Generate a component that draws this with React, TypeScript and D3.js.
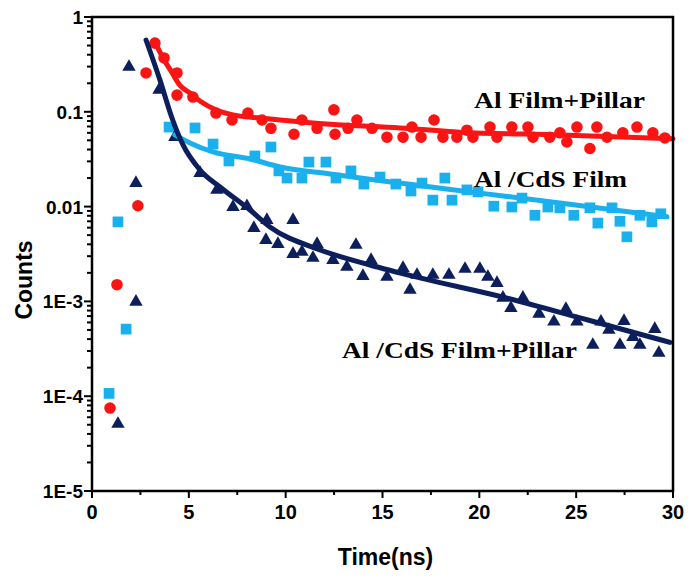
import React from "react";
import * as d3 from "d3";

// ---- data ----
const xTicks = [0, 5, 10, 15, 20, 25, 30];
const yTicks = [1, 0.1, 0.01, 1e-3, 1e-4, 1e-5];
const yTickLabels = ["1", "0.1", "0.01", "1E-3", "1E-4", "1E-5"];

const redPoints: [number, number][] = [
  [0.93, 7.5e-5], [1.29, 1.5e-3], [2.37, 0.0102], [2.79, 0.257], [3.25, 0.53], [3.72, 0.37],
  [4.39, 0.257], [4.39, 0.15], [5.21, 0.143], [6.4, 0.097], [7.23, 0.082], [8.05, 0.097],
  [8.78, 0.082], [9.24, 0.067], [10.43, 0.058], [10.84, 0.082], [11.62, 0.067], [12.49, 0.105],
  [12.55, 0.058], [13.22, 0.067], [13.68, 0.082], [14.46, 0.067], [15.23, 0.054], [16.06, 0.054],
  [16.52, 0.069], [16.99, 0.054], [17.66, 0.082], [18.12, 0.054], [18.84, 0.054], [19.36, 0.064],
  [19.67, 0.054], [20.55, 0.069], [20.91, 0.054], [21.68, 0.069], [22.51, 0.069], [22.77, 0.054],
  [23.64, 0.054], [24.16, 0.06], [24.52, 0.048], [25.04, 0.069], [25.71, 0.041], [26.07, 0.069],
  [26.59, 0.054], [27.41, 0.06], [28.14, 0.069], [28.96, 0.06], [29.58, 0.053],
];
const redFit: [number, number][] = [
  [3.2, 0.57], [3.77, 0.34], [4.03, 0.28], [4.54, 0.19], [5.06, 0.158], [5.57, 0.13],
  [6.45, 0.104], [7.64, 0.09], [8.67, 0.086], [9.71, 0.082], [12.3, 0.074], [15.9, 0.0675],
  [19, 0.061], [24.2, 0.057], [30, 0.052],
];

const cyanPoints: [number, number][] = [
  [0.88, 1.07e-4], [1.34, 0.0069], [1.76, 5.1e-4], [3.98, 0.069], [5.32, 0.0675], [6.25, 0.0457],
  [7.07, 0.0303], [8.41, 0.0342], [9.24, 0.0425], [9.65, 0.0238], [10.07, 0.02], [10.84, 0.02],
  [11.2, 0.0295], [12.08, 0.0295], [12.6, 0.02], [13.37, 0.0238], [14.04, 0.0173], [14.87, 0.0205],
  [15.69, 0.0173], [16.47, 0.0146], [17.04, 0.0177], [17.6, 0.0117], [18.22, 0.02], [18.59, 0.0117],
  [19.36, 0.015], [19.93, 0.0143], [20.75, 0.0101], [21.68, 0.0099], [22.2, 0.0123], [22.87, 0.0081],
  [23.54, 0.0099], [24.16, 0.0097], [24.88, 0.0081], [25.71, 0.0097], [26.12, 0.0067], [26.85, 0.0097],
  [27.26, 0.007], [27.62, 0.0048], [28.29, 0.0081], [28.91, 0.0069], [29.37, 0.0084],
];
const cyanFit: [number, number][] = [
  [4.28, 0.057], [5.06, 0.0469], [6.25, 0.0377], [8.16, 0.0318], [9.71, 0.0262], [12.29, 0.0221],
  [15.9, 0.0177], [19.51, 0.0143], [24.16, 0.0109], [29.69, 0.0078],
];

const navyPoints: [number, number][] = [
  [1.34, 5.1e-5], [1.91, 0.297], [2.27, 0.0177], [2.27, 9.9e-4], [3.46, 0.17], [4.28, 0.0542],
  [5.58, 0.0226], [6.45, 0.015], [7.28, 0.0099], [8.0, 0.0101], [8.36, 0.00594], [9.03, 0.00722],
  [8.98, 0.00444], [9.6, 0.00403], [10.38, 0.00722], [10.38, 0.00316], [10.84, 0.00332], [11.41, 0.00287],
  [11.62, 0.00403], [12.44, 0.00273], [13.16, 0.00231], [13.63, 0.00394], [13.99, 0.00185], [14.41, 0.00273],
  [15.23, 0.00181], [16.06, 0.00225], [16.42, 0.00132], [16.78, 0.0019], [17.6, 0.0019], [18.43, 0.0019],
  [19.26, 0.0022], [20.03, 0.0022], [20.44, 0.00181], [20.91, 0.00156], [21.22, 0.00109], [21.63, 0.00085],
  [22.25, 0.00109], [23.08, 0.00074], [23.85, 0.00061], [24.47, 0.00083], [25.04, 0.00061], [25.86, 0.000347],
  [26.28, 0.00061], [26.69, 0.0005], [27.26, 0.000347], [27.47, 0.00062], [27.93, 0.00042], [28.29, 0.000347],
  [29.06, 0.00051], [29.27, 0.000286],
];
const navyFit: [number, number][] = [
  [2.79, 0.572], [3.51, 0.216], [4.13, 0.086], [4.7, 0.0447], [5.58, 0.0243], [6.61, 0.0161],
  [8.16, 0.0092], [9.19, 0.0061], [11.77, 0.0035], [14.35, 0.00242], [16.93, 0.00177], [21.22, 0.00111],
  [25.56, 0.00064], [29.84, 0.00037],
];

const seriesLabels = ["Al Film+Pillar", "Al /CdS Film", "Al /CdS Film+Pillar"];

// ---- layout ----
const W = 700;
const H = 579;
const M = { left: 92, right: 673, top: 17, bottom: 491 };

const RED = "#fb1414";
const CYAN = "#1ab0ee";
const NAVY = "#0c1f5c";

const narrow = "'Liberation Sans Narrow', 'Arial Narrow', 'Liberation Sans', Arial, sans-serif";
const sans = "'Liberation Sans', Arial, sans-serif";
const serif = "'Liberation Serif', 'Times New Roman', serif";

export default function App() {
  const x = d3.scaleLinear().domain([0, 30]).range([M.left, M.right]);
  const y = d3.scaleLog().domain([1e-5, 1]).range([M.bottom, M.top]);

  const line = d3
    .line<[number, number]>()
    .x((d) => x(d[0]))
    .y((d) => y(d[1]))
    .curve(d3.curveMonotoneX);

  const circle = d3.symbol().type(d3.symbolCircle).size(105)()!;
  const square = d3.symbol().type(d3.symbolSquare).size(115)()!;
  const tri = d3.symbol().type(d3.symbolTriangle).size(78)()!;

  const xMinor = d3.range(0, 30.01, 2.5);
  const yMinor: number[] = [];
  for (let e = -5; e < 0; e++) for (let k = 2; k <= 9; k++) yMinor.push(k * Math.pow(10, e));

  return (
    <svg
      width={W}
      height={H}
      style={{ position: "absolute", left: 0, top: 0, background: "#fff" }}
    >
      <rect x={0} y={0} width={W} height={H} fill="#fff" />

      {/* points */}
      {redPoints.map((d, i) => (
        <path key={"r" + i} d={circle} transform={`translate(${x(d[0])},${y(d[1])})`} fill={RED} />
      ))}
      {cyanPoints.map((d, i) => (
        <path key={"c" + i} d={square} transform={`translate(${x(d[0])},${y(d[1])})`} fill={CYAN} />
      ))}
      {navyPoints.map((d, i) => (
        <path key={"n" + i} d={tri} transform={`translate(${x(d[0])},${y(d[1])})`} fill={NAVY} />
      ))}

      {/* fits */}
      <path d={line(redFit)!} fill="none" stroke={RED} strokeWidth={5} strokeLinecap="round" />
      <path d={line(cyanFit)!} fill="none" stroke={CYAN} strokeWidth={5} strokeLinecap="round" />
      <path d={line(navyFit)!} fill="none" stroke={NAVY} strokeWidth={5} strokeLinecap="round" />

      {/* frame */}
      <rect
        x={M.left}
        y={M.top}
        width={M.right - M.left}
        height={M.bottom - M.top}
        fill="none"
        stroke="#000"
        strokeWidth={2.5}
      />

      {/* x ticks */}
      {xMinor.map((v, i) => (
        <line
          key={"xm" + i}
          x1={x(v)}
          x2={x(v)}
          y1={M.bottom}
          y2={M.bottom + (v % 5 === 0 ? 7 : 4)}
          stroke="#000"
          strokeWidth={2}
        />
      ))}
      {xTicks.map((v) => (
        <text
          key={"xt" + v}
          x={x(v)}
          y={M.bottom + 28}
          textAnchor="middle"
          fontFamily={narrow}
          fontWeight="bold"
          fontSize={20}
        >
          {v}
        </text>
      ))}

      {/* y ticks */}
      {yMinor.map((v, i) => (
        <line key={"ym" + i} x1={M.left - 5} x2={M.left} y1={y(v)} y2={y(v)} stroke="#000" strokeWidth={2} />
      ))}
      {yTicks.map((v, i) => (
        <g key={"yt" + i}>
          <line x1={M.left - 8} x2={M.left} y1={y(v)} y2={y(v)} stroke="#000" strokeWidth={2} />
          <text
            x={M.left - 9}
            y={y(v) + 7}
            textAnchor="end"
            fontFamily={sans}
            fontWeight="bold"
            fontSize={19}
          >
            {yTickLabels[i]}
          </text>
        </g>
      ))}

      {/* axis titles */}
      <text
        x={(M.left + M.right) / 2 + 3}
        y={565}
        textAnchor="middle"
        fontFamily={narrow}
        fontWeight="bold"
        fontSize={23}
      >
        Time(ns)
      </text>
      <text
        transform={`translate(32,280) rotate(-90)`}
        textAnchor="middle"
        fontFamily={sans}
        fontWeight="bold"
        fontSize={23}
      >
        Counts
      </text>

      {/* series annotations */}
      <text x={474} y={108} fontFamily={serif} fontWeight="bold" fontSize={23} textLength={171} lengthAdjust="spacingAndGlyphs">
        {seriesLabels[0]}
      </text>
      <text x={474} y={187} fontFamily={serif} fontWeight="bold" fontSize={23} textLength={153} lengthAdjust="spacingAndGlyphs">
        {seriesLabels[1]}
      </text>
      <text x={342} y={358} fontFamily={serif} fontWeight="bold" fontSize={23} textLength={235} lengthAdjust="spacingAndGlyphs">
        {seriesLabels[2]}
      </text>
    </svg>
  );
}
